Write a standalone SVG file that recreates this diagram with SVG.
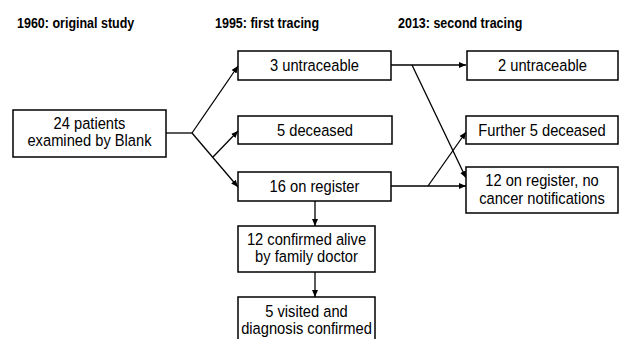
<svg xmlns="http://www.w3.org/2000/svg" width="619" height="339" viewBox="0 0 619 339">
<defs>
<marker id="ah" markerWidth="8" markerHeight="8" refX="7" refY="4" orient="auto" markerUnits="userSpaceOnUse">
<path d="M0,1 L7,4 L0,7 Z" fill="#000"/>
</marker>
<style>
.box{fill:#fff;stroke:#000;stroke-width:1.5}
.t{font-family:"Liberation Sans",Arial,sans-serif;font-size:14.7px;fill:#000;text-anchor:middle}
.h{font-family:"Liberation Sans",Arial,sans-serif;font-size:12.5px;font-weight:bold;fill:#000}
.c{fill:none;stroke:#000;stroke-width:1.3}
</style>
</defs>
<rect width="619" height="339" fill="#fff"/>
<g id="headers">
<text class="h" transform="translate(17,27.5) scale(1,1.2)">1960: original  study</text>
<text class="h" transform="translate(215,27.5) scale(1,1.2)">1995: first tracing</text>
<text class="h" transform="translate(398,27.5) scale(1,1.2)">2013: second tracing</text>
</g>
<g id="connectors">
<path class="c" d="M166,133 L192,133"/>
<path class="c" d="M192,133 L238,66" marker-end="url(#ah)"/>
<path class="c" d="M192,133 L238,187" marker-end="url(#ah)"/>
<path class="c" d="M213,157 L238,131" marker-end="url(#ah)"/>
<path class="c" d="M391,65 L466,65" marker-end="url(#ah)"/>
<path class="c" d="M412,65 L466,178" marker-end="url(#ah)"/>
<path class="c" d="M391,186 L466,186" marker-end="url(#ah)"/>
<path class="c" d="M428,186 L466,132" marker-end="url(#ah)"/>
<path class="c" d="M315,201 L315,226" marker-end="url(#ah)"/>
<path class="c" d="M315,272 L315,297" marker-end="url(#ah)"/>
</g>
<g id="n24">
<rect class="box" x="13" y="110" width="153" height="47"/>
<text class="t" transform="translate(89.5,128.5) scale(1,1.12)">24 patients</text>
<text class="t" transform="translate(89.5,146) scale(1,1.12)">examined by Blank</text>
</g>
<g id="n3u">
<rect class="box" x="238" y="51" width="153" height="29"/>
<text class="t" transform="translate(314.5,71) scale(1,1.12)">3 untraceable</text>
</g>
<g id="n5d">
<rect class="box" x="238" y="116" width="154" height="28"/>
<text class="t" transform="translate(315,136) scale(1,1.12)">5 deceased</text>
</g>
<g id="n16">
<rect class="box" x="238" y="172" width="153" height="29"/>
<text class="t" transform="translate(314.5,192) scale(1,1.12)">16 on register</text>
</g>
<g id="n12a">
<rect class="box" x="238" y="226" width="137" height="46"/>
<text class="t" transform="translate(306.5,244.5) scale(1,1.12)">12 confirmed alive</text>
<text class="t" transform="translate(306.5,261.5) scale(1,1.12)">by family doctor</text>
</g>
<g id="n5v">
<rect class="box" x="238" y="297" width="137" height="50"/>
<text class="t" transform="translate(306.5,316.5) scale(1,1.12)">5 visited and</text>
<text class="t" transform="translate(306.5,333.5) scale(1,1.12)">diagnosis confirmed</text>
</g>
<g id="n2u">
<rect class="box" x="467" y="51" width="151" height="29"/>
<text class="t" transform="translate(542.5,71) scale(1,1.12)">2 untraceable</text>
</g>
<g id="nf5">
<rect class="box" x="466" y="116" width="152" height="28"/>
<text class="t" transform="translate(542,136) scale(1,1.12)">Further 5 deceased</text>
</g>
<g id="n12r">
<rect class="box" x="466" y="167" width="152" height="46"/>
<text class="t" transform="translate(542,185.5) scale(1,1.12)">12 on register, no</text>
<text class="t" transform="translate(542,203.5) scale(1,1.12)">cancer notifications</text>
</g>
</svg>
